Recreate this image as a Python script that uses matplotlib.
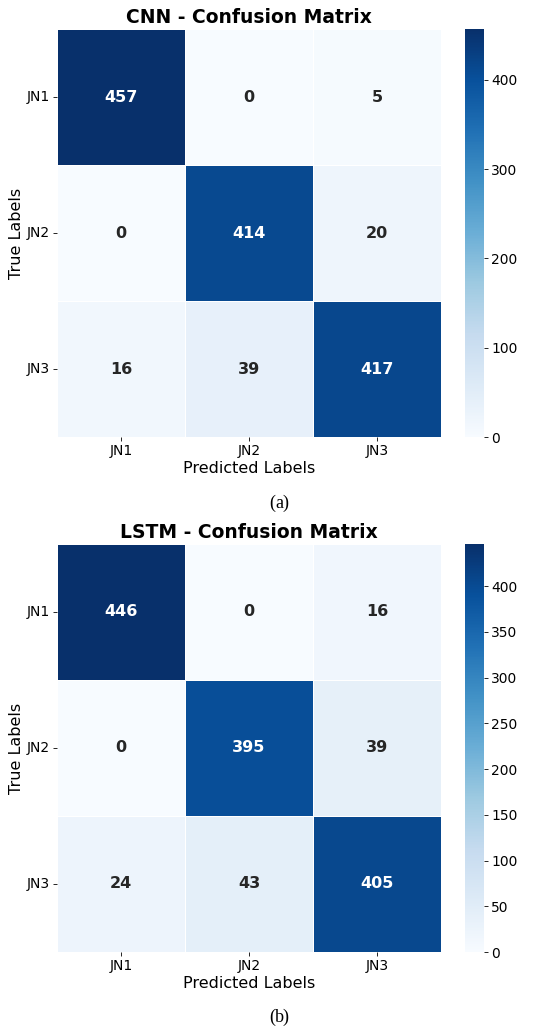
import matplotlib
matplotlib.use("Agg")
import matplotlib.pyplot as plt
import seaborn as sns
import numpy as np

labels = ["JN1", "JN2", "JN3"]

cnn_cm = [[457, 0, 5],
          [0, 414, 20],
          [16, 39, 417]]

lstm_cm = [[446, 0, 16],
           [0, 395, 39],
           [24, 43, 405]]

titles = ["CNN - Confusion Matrix", "LSTM - Confusion Matrix"]
captions = ["a", "b"]

W, H = 550, 1033
fig = plt.figure(figsize=(W / 100, H / 100), dpi=100)


def box(x0, y0, x1, y1):
    # pixel box -> figure fraction [left, bottom, width, height]
    return [x0 / W, 1 - y1 / H, (x1 - x0) / W, (y1 - y0) / H]


panels = [
    (cnn_cm, (57, 29, 441, 437), (465, 29, 484, 437), 503),
    (lstm_cm, (57, 544, 441, 952), (465, 544, 484, 952), 1017),
]

for i, (cm, hb, cb, cap_y) in enumerate(panels):
    ax = fig.add_axes(box(*hb))
    cax = fig.add_axes(box(*cb))
    sns.heatmap(np.array(cm), annot=True, fmt="d", cmap="Blues",
                xticklabels=labels, yticklabels=labels,
                linewidths=0.6, linecolor="white",
                annot_kws={"fontsize": 11.5, "fontweight": "bold"},
                ax=ax, cbar_ax=cax)
    ax.set_title(titles[i], fontsize=13.5, fontweight="bold", pad=4)
    ax.set_xlabel("Predicted Labels", fontsize=11.5, labelpad=2)
    ax.set_ylabel("True Labels", fontsize=11.5, labelpad=2)
    ax.tick_params(axis="both", labelsize=10, length=3, width=0.6, pad=2)
    ax.set_yticklabels(labels, rotation=0)
    cax.tick_params(labelsize=10, length=3, width=0.6, pad=2)
    for s in cax.spines.values():
        s.set_visible(False)
    fig.text(275 / W, 1 - cap_y / H, "(", fontsize=13, family="Liberation Serif",
             ha="right", va="center")
    fig.text(275 / W, 1 - cap_y / H, captions[i] + ")", fontsize=13,
             family="Liberation Serif", ha="left", va="center")

fig.savefig("out.png", dpi=100)
